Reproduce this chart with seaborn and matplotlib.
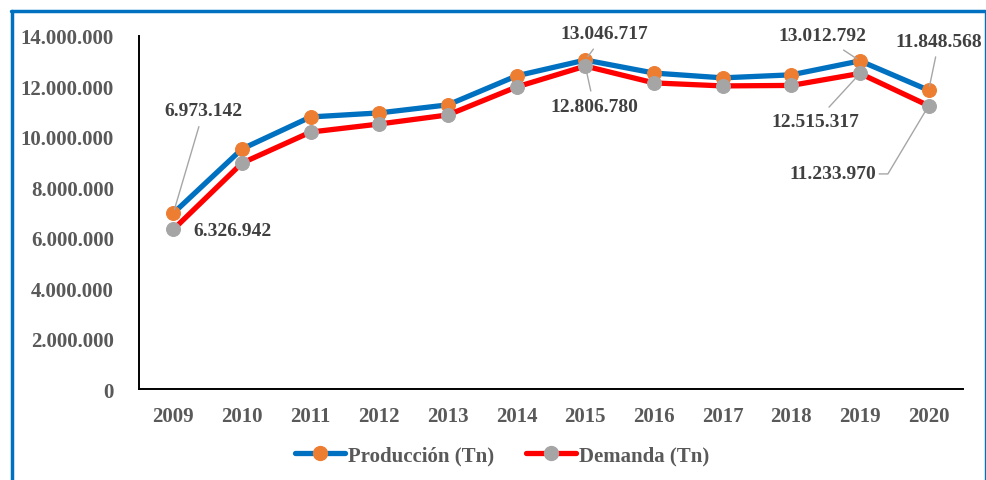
import numpy as np
import pandas as pd
import matplotlib
matplotlib.use("Agg")
import matplotlib.pyplot as plt
from matplotlib.lines import Line2D
from matplotlib.ticker import FuncFormatter
import seaborn as sns

# data
years = ['2009', '2010', '2011', '2012', '2013', '2014', '2015', '2016', '2017', '2018', '2019', '2020']
produccion = [6973142, 9520000, 10790000, 10950000, 11270000, 12420000, 13046717, 12530000, 12340000, 12460000, 13012792, 11848568]
demanda = [6326942, 8960000, 10190000, 10510000, 10870000, 11980000, 12806780, 12140000, 12020000, 12040000, 12515317, 11233970]
series_names = ['Producción (Tn)', 'Demanda (Tn)']

# labelled points: (series, year index, text position x, text position y, align)
labels = [
    (0, 0, 0.44, 11030000, 'center'),
    (1, 0, 0.29, 6270000, 'left'),
    (0, 6, 6.28, 14080000, 'center'),
    (1, 6, 6.13, 11190000, 'center'),
    (0, 10, 9.45, 14000000, 'center'),
    (1, 10, 9.35, 10590000, 'center'),
    (0, 11, 11.15, 13800000, 'center'),
    (1, 11, 9.60, 8530000, 'elbow'),
]

sns.set_style("white")
plt.rcParams['font.family'] = ['Liberation Serif', 'DejaVu Serif']
plt.rcParams['font.weight'] = 'bold'

df = pd.DataFrame({'year': years, 'prod': produccion, 'dem': demanda})

fig = plt.figure(figsize=(9.87, 4.81), dpi=100)
ax = fig.add_axes([139/987, 1-390/481, (963-139)/987, (390-37)/481])

sns.lineplot(data=df, x='year', y='prod', ax=ax, sort=False, color='#0070C0', lw=3.8,
             marker='o', markersize=10, markerfacecolor='#ED7D31', markeredgecolor='#ED7D31')
sns.lineplot(data=df, x='year', y='dem', ax=ax, sort=False, color='#FF0000', lw=3.8,
             marker='o', markersize=10, markerfacecolor='#A5A5A5', markeredgecolor='#A5A5A5')

ax.set_xlim(-0.5, 11.5)
ax.set_ylim(0, 14000000)
ax.set_yticks(np.arange(0, 14000001, 2000000))
ax.yaxis.set_major_formatter(FuncFormatter(lambda v, p: f"{int(v):,}".replace(',', '.')))
ax.set_xlabel('')
ax.set_ylabel('')
ax.tick_params(axis='both', length=0, labelsize=15, labelcolor='#595959')
ax.tick_params(axis='y', pad=18)
ax.tick_params(axis='x', pad=12)
for t in ax.get_xticklabels() + ax.get_yticklabels():
    t.set_fontweight('bold')
for s in ['top', 'right']:
    ax.spines[s].set_visible(False)
for s in ['left', 'bottom']:
    ax.spines[s].set_color('#000000')
    ax.spines[s].set_linewidth(1.4)

series = [produccion, demanda]
for si, yi, tx, ty, how in labels:
    val = series[si][yi]
    txt = f"{val:,}".replace(',', '.')
    if how == 'left':
        ax.text(tx, ty, txt, ha='left', va='center', fontsize=14, color='#404040', fontweight='bold')
    elif how == 'elbow':
        ax.annotate(txt, xy=(yi, val), xytext=(tx, ty), ha='center', va='center',
                    fontsize=14, color='#404040', fontweight='bold',
                    arrowprops=dict(arrowstyle='-', color='#A6A6A6', lw=1, relpos=(1, 0.5),
                                    connectionstyle='arc,angleA=0,armA=12,angleB=0,armB=0,rad=0',
                                    shrinkA=0, shrinkB=4))
    else:
        ax.annotate(txt, xy=(yi, val), xytext=(tx, ty), ha='center', va='center',
                    fontsize=14, color='#404040', fontweight='bold',
                    arrowprops=dict(arrowstyle='-', color='#A6A6A6', lw=1, shrinkA=3, shrinkB=3))

handles = [
    Line2D([], [], color='#0070C0', lw=3.8, marker='o', markersize=10,
           markerfacecolor='#ED7D31', markeredgecolor='#ED7D31'),
    Line2D([], [], color='#FF0000', lw=3.8, marker='o', markersize=10,
           markerfacecolor='#A5A5A5', markeredgecolor='#A5A5A5'),
]
leg = fig.legend(handles, series_names, loc='center', bbox_to_anchor=(502/987, 1-456/481), ncol=2,
                 frameon=False, fontsize=15, handlelength=2.4, handletextpad=0.15, columnspacing=1.5)
for t in leg.get_texts():
    t.set_color('#595959')
    t.set_fontweight('bold')

# blue frame
W, H = 987, 481
fig.add_artist(Line2D([12/W, 12/W], [0, 1-12/H], color='#0070C0', lw=2.5, transform=fig.transFigure))
fig.add_artist(Line2D([11/W, 985/W], [1-12/H, 1-12/H], color='#0070C0', lw=2.5, transform=fig.transFigure))
fig.add_artist(Line2D([985/W, 985/W], [0, 1-12/H], color='#0070C0', lw=1, transform=fig.transFigure))

fig.savefig('out.png', dpi=100)
